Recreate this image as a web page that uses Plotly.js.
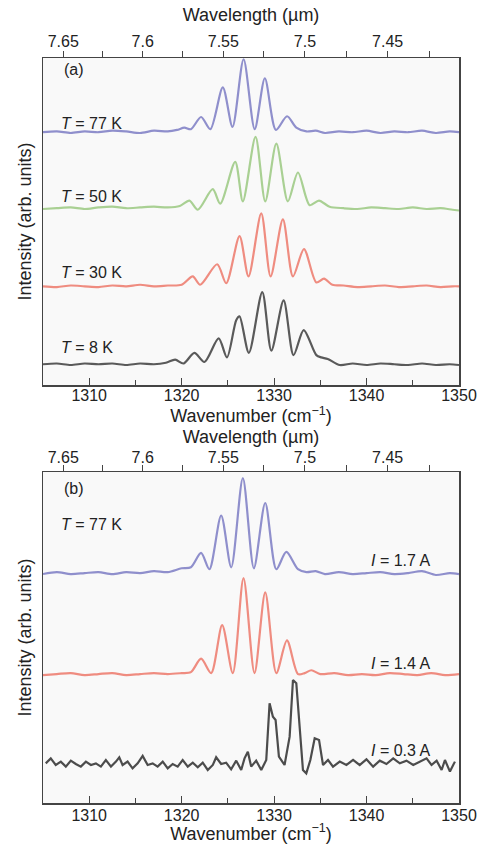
<!DOCTYPE html>
<html>
<head>
<meta charset="utf-8">
<script src="https://cdn.plot.ly/plotly-3.0.1.min.js"></script>
<style>html,body{margin:0;padding:0;background:#fff;}#chart{width:481px;height:844px;}</style>
</head>
<body>
<div id="chart"></div>
<script>
// ---------- Panel (a): temperature dependence (normalized intensity vs wavenumber, cm^-1) ----------
const wnA77 = [1305,1306.5,1308,1309.5,1311,1312.5,1314,1315.5,1317,1318.5,1319.5,1320.3,1321,1322.1,1323.1,1324.45,1325.5,1326.7,1327.9,1329.0,1330.2,1331.4,1332.4,1333.5,1334.5,1335.5,1337,1338.5,1340,1341.5,1343,1344.5,1346,1347.5,1349,1350];
const intA77 = [0.01,0.02,0.0,0.02,0.01,0.03,0.02,0.0,0.03,0.02,0.04,0.07,0.05,0.21,0.05,0.60,0.08,0.97,0.05,0.72,0.04,0.22,0.07,0.02,0.03,0.0,0.02,0.01,0.03,0.0,0.02,0.01,0.03,0.0,0.02,0.01];

const wnA50 = [1305,1306.5,1308,1309.5,1311,1312.5,1314,1315.5,1317,1318.5,1319.8,1320.84,1321.74,1323.36,1324.17,1325.79,1326.62,1327.99,1329.04,1330.24,1331.49,1332.58,1333.85,1334.85,1336,1337.5,1339,1340.5,1342,1343.5,1345,1346.5,1348,1349.3,1350];
const intA50 = [0.0,0.01,0.02,0.0,0.02,0.03,0.01,0.02,0.03,0.02,0.04,0.11,-0.01,0.26,0.07,0.62,0.10,0.95,0.10,0.86,0.10,0.48,0.05,0.11,0.03,0.01,0.0,0.02,0.01,0.0,0.02,0.0,0.01,-0.01,-0.02];

const wnA30 = [1305,1306.5,1308,1309.5,1311,1312.5,1314,1315.5,1317,1318.5,1320,1321.2,1322.0,1323.84,1324.82,1326.26,1327.23,1328.61,1329.62,1330.95,1332.04,1333.23,1334.57,1335.4,1336.3,1337.5,1339,1340.5,1342,1343.5,1345,1346.5,1348,1349.3,1350];
const intA30 = [0.01,0.0,0.02,0.01,0.0,0.02,0.01,0.03,0.01,0.02,0.03,0.14,0.03,0.30,0.05,0.67,0.14,0.97,0.14,0.89,0.14,0.50,0.06,0.11,0.03,0.02,0.0,0.01,0.02,0.0,0.01,0.02,0.0,0.01,0.01];

const wnA8 = [1305,1306.5,1308,1309.5,1311,1312.5,1314,1315.5,1317,1318.3,1319.3,1320.2,1321.38,1322.46,1324.0,1324.9,1325.9,1326.26,1327.27,1328.72,1329.7,1331.03,1332.1,1333.2,1334.57,1335.1,1335.8,1337.1,1338.5,1340,1341.5,1343,1344.5,1346,1347.5,1349,1350];
const intA8 = [0.01,0.02,0.0,0.02,0.01,0.02,0.0,0.02,0.01,0.03,0.07,0.02,0.16,0.04,0.35,0.10,0.59,0.64,0.16,0.96,0.19,0.85,0.13,0.46,0.13,0.10,0.08,0.0,0.02,0.0,0.02,0.01,0.0,0.02,0.0,0.01,0.0];

const offsetsA = [3.316, 2.316, 1.289, 0.263];           // 77 K, 50 K, 30 K, 8 K
const labelsA = ['<i>T</i> = 77 K','<i>T</i> = 50 K','<i>T</i> = 30 K','<i>T</i> = 8 K'];
const labelYA = [3.447, 2.474, 1.474, 0.487];

// ---------- Panel (b): current dependence at T = 77 K ----------
const wnB17 = [1305,1306.5,1308,1309.5,1311,1312.5,1314,1315.5,1317,1318.5,1320,1321,1322.1,1323.0,1324.27,1325.36,1326.62,1327.81,1329.04,1330.24,1331.32,1332.58,1333.5,1334.5,1335.5,1337,1338.5,1340,1341.5,1343,1344.5,1346,1347.5,1349,1350];
const intB17 = [0.0,0.02,0.0,0.01,0.02,0.0,0.02,0.01,0.03,0.02,0.06,0.07,0.22,0.05,0.61,0.07,1.0,0.06,0.74,0.05,0.23,0.05,0.02,0.03,0.0,0.02,0.0,0.01,0.02,0.0,0.01,0.03,-0.01,0.01,0.0];

const wnB14 = [1305,1306.5,1308,1309.5,1311,1312.5,1314,1315.5,1317,1318.5,1320,1321,1322.1,1323.19,1324.38,1325.53,1326.69,1327.88,1329.04,1330.24,1331.39,1332.58,1333.3,1334.03,1335,1336.5,1338,1339.5,1341,1342.5,1344,1345.5,1347,1348.5,1350];
const intB14 = [0.0,0.01,0.02,0.0,0.01,0.02,0.0,0.01,0.02,0.01,0.02,0.03,0.17,0.02,0.52,0.02,1.01,0.02,0.86,0.02,0.36,0.01,0.02,0.05,0.01,0.02,0.0,0.01,0.0,0.02,0.01,0.0,0.02,0.0,0.01];

const wnB03 = [1305.30,1305.84,1306.38,1306.93,1307.47,1308.01,1308.55,1309.09,1309.64,1310.18,1310.72,1311.26,1311.80,1312.35,1312.89,1313.25,1313.61,1314.15,1314.69,1315.24,1315.78,1316.32,1316.86,1317.40,1317.95,1318.49,1319.03,1319.57,1320.11,1320.66,1321.20,1321.74,1322.28,1322.82,1323.37,1323.73,1324.27,1324.81,1325.35,1325.90,1326.44,1326.80,1327.16,1327.52,1328.06,1328.61,1329.15,1329.51,1329.87,1330.16,1330.52,1331.13,1331.68,1332.04,1332.40,1332.69,1333.12,1333.48,1333.92,1334.39,1334.86,1335.29,1335.83,1336.37,1337.10,1337.82,1338.54,1339.26,1339.99,1340.71,1341.43,1342.15,1342.88,1343.60,1344.32,1345.05,1345.77,1346.49,1347.03,1347.58,1348.12,1348.48,1349.02,1349.56];
const intB03 = [0.017,0.069,0.0,0.035,-0.017,0.045,0.010,-0.017,0.035,0.0,0.017,-0.017,0.052,-0.017,0.035,0.080,0.0,0.035,-0.035,0.017,0.094,0.0,0.017,-0.017,0.035,-0.035,0.010,-0.017,0.052,-0.017,0.024,-0.024,0.024,-0.052,0.0,0.080,0.010,0.024,-0.045,0.045,-0.052,0.069,0.139,-0.017,0.045,-0.052,0.052,0.642,0.503,0.469,0.087,0.0,0.295,0.885,0.851,0.469,-0.052,-0.087,0.052,0.278,0.260,0.0,0.052,-0.017,0.035,0.0,0.052,0.0,0.059,-0.017,0.045,0.010,0.069,0.017,0.045,0.0,0.035,0.069,0.0,0.045,-0.052,0.052,-0.069,0.035];

const offsetsB = [2.385, 1.333, 0.396];                   // 1.7 A, 1.4 A, 0.3 A
const labelsB = ['<i>I</i> = 1.7 A','<i>I</i> = 1.4 A','<i>I</i> = 0.3 A'];
const labelYB = [2.521, 1.458, 0.542];

// ---------- Axis ticks ----------
const wnTicks = [1310,1320,1330,1340,1350];
const wlTicks = [7.65,7.625,7.6,7.575,7.55,7.525,7.5,7.475,7.45,7.425];
const wlLabels = ['7.65','','7.6','','7.55','','7.5','','7.45',''];

const colA = ['#8f8fcc','#a9d093','#ef8c80','#5a5a5a'];
const colB = ['#8f8fcc','#ef8c80','#4c4c4c'];

const traces = [];
function addTrace(x, y, off, color, xa, ya, shape) {
  traces.push({
    type: 'scatter', mode: 'lines', x: x, y: y.map(v => v + off),
    xaxis: xa, yaxis: ya, showlegend: false, hoverinfo: 'skip',
    line: {color: color, width: 2.2, shape: shape, smoothing: 0.8}
  });
}
const seriesA = [[wnA77,intA77],[wnA50,intA50],[wnA30,intA30],[wnA8,intA8]];
seriesA.forEach((s,i) => addTrace(s[0], s[1], offsetsA[i], colA[i], 'x', 'y', 'spline'));
const seriesB = [[wnB17,intB17,'spline'],[wnB14,intB14,'spline'],[wnB03,intB03,'linear']];
seriesB.forEach((s,i) => addTrace(s[0], s[1], offsetsB[i], colB[i], 'x3', 'y2', s[2]));
// empty traces so that the top (wavelength) axes get their subplots
traces.push({type: 'scatter', mode: 'lines', x: [], y: [], xaxis: 'x2', yaxis: 'y', showlegend: false, hoverinfo: 'skip'});
traces.push({type: 'scatter', mode: 'lines', x: [], y: [], xaxis: 'x4', yaxis: 'y2', showlegend: false, hoverinfo: 'skip'});

const FONT = 'Liberation Sans, Arial, sans-serif';
const TXT = '#222';
const range = [1305, 1350];

function bottomAxis(anchor, lblOff) {
  return {
    anchor: anchor, range: range, showline: true, mirror: true, linecolor: '#444', linewidth: 1.5,
    tickvals: wnTicks, ticks: 'inside', ticklen: 7, tickcolor: '#444', tickwidth: 1,
    minor: {dtick: 5, tick0: 1305, ticks: 'inside', ticklen: 5, tickcolor: '#444', showgrid: false},
    showgrid: false, zeroline: false, ticklabelstandoff: lblOff,
    tickfont: {family: FONT, size: 16, color: TXT},
    title: {text: 'Wavenumber (cm<sup>−1</sup>)', font: {family: FONT, size: 18, color: TXT}, standoff: 0}
  };
}
function topAxis(over, anchor, lblOff, titleOff) {
  return {
    overlaying: over, anchor: anchor, side: 'top', range: range, showline: false,
    tickvals: wlTicks.map(l => 10000 / l), ticktext: wlLabels,
    ticks: 'outside', ticklen: 6, tickcolor: '#444', tickwidth: 1,
    showgrid: false, zeroline: false, ticklabelstandoff: lblOff,
    tickfont: {family: FONT, size: 16, color: TXT},
    title: {text: 'Wavelength (µm)', font: {family: FONT, size: 18, color: TXT}, standoff: titleOff}
  };
}
function yAxis(anchor, dom, r) {
  return {
    anchor: anchor, domain: dom, range: r, showline: true, mirror: true, linecolor: '#444', linewidth: 1.5,
    showticklabels: false, ticks: '', showgrid: false, zeroline: false,
    title: {text: 'Intensity (arb. units)', font: {family: FONT, size: 18, color: TXT}, standoff: 5}
  };
}

const annotations = [];
function ann(text, xref, yref, x, y, xanchor) {
  annotations.push({text: text, xref: xref, yref: yref, x: x, y: y, xanchor: xanchor, yanchor: 'middle',
    showarrow: false, font: {family: FONT, size: 16, color: TXT}});
}
ann('(a)', 'x', 'y', 1307.1, 4.145, 'left');
labelsA.forEach((t,i) => ann(t, 'x', 'y', 1306.7, labelYA[i], 'left'));
ann('(b)', 'x3', 'y2', 1307.1, 3.281, 'left');
ann('<i>T</i> = 77 K', 'x3', 'y2', 1306.7, 2.896, 'left');
labelsB.forEach((t,i) => ann(t, 'x3', 'y2', 1347.1, labelYB[i], 'right'));

const layout = {
  width: 481, height: 844,
  margin: {l: 43, r: 22, t: 0, b: 0},
  paper_bgcolor: '#ffffff', plot_bgcolor: '#f9f9f9',
  font: {family: FONT, color: TXT},
  xaxis: bottomAxis('y', -5),
  xaxis2: topAxis('x', 'y', -2, 6),
  yaxis: yAxis('x', [1 - 385/844, 1 - 58/844], [0, 327/76]),
  xaxis3: bottomAxis('y2', -3),
  xaxis4: topAxis('x3', 'y2', -4, 0),
  yaxis2: yAxis('x3', [1 - 803/844, 1 - 472/844], [0, 331/96]),
  annotations: annotations,
  showlegend: false
};

Plotly.newPlot('chart', traces, layout, {displayModeBar: false, staticPlot: true});
</script>
</body>
</html>
